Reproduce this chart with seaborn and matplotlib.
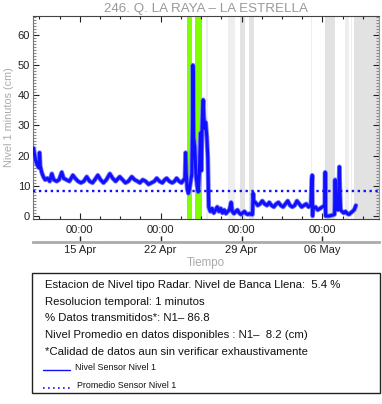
import numpy as np
import pandas as pd
import matplotlib
matplotlib.use("Agg")
import matplotlib.pyplot as plt
import matplotlib.dates as mdates
from matplotlib.ticker import FixedLocator, FuncFormatter, MultipleLocator
from matplotlib.patches import Rectangle
from matplotlib.lines import Line2D
import seaborn as sns

# ---------------- data ----------------
start = pd.Timestamp("2024-04-11 00:00")
dias = [0.00, 0.08, 0.17, 0.30, 0.45, 0.52, 0.58, 0.70, 0.85, 1.00, 1.20, 1.40, 1.58, 1.75,
        2.00, 2.20, 2.44, 2.60, 2.85, 3.10, 3.40, 3.60, 3.85, 4.10, 4.35, 4.60, 4.85, 5.10,
        5.30, 5.56, 5.80, 6.05, 6.30, 6.60, 6.85, 7.10, 7.46, 7.70, 7.95, 8.20, 8.50, 8.75,
        9.00, 9.20, 9.45, 9.70, 9.95, 10.20, 10.45, 10.66, 10.90, 11.15, 11.35, 11.52, 11.75,
        12.00, 12.20, 12.38, 12.60, 12.80, 13.00, 13.10, 13.16, 13.22, 13.30, 13.40, 13.50,
        13.60, 13.70, 13.76, 13.79, 13.82, 13.86, 13.95, 14.05, 14.15, 14.25, 14.35, 14.45,
        14.52, 14.58, 14.64, 14.68, 14.74, 14.82, 14.90, 15.00, 15.08, 15.16, 15.30, 15.45,
        15.60, 15.75, 15.90, 16.05, 16.20, 16.35, 16.50, 16.65, 16.80, 16.95, 17.10, 17.20,
        17.35, 17.50, 17.65, 17.80, 17.95, 18.10, 18.25, 18.40, 18.55, 18.70, 18.85, 18.95,
        19.00, 19.05, 19.20, 19.40, 19.60, 19.80, 20.00, 20.20, 20.40, 20.60, 20.80, 21.00,
        21.20, 21.40, 21.60, 21.80, 22.00, 22.20, 22.40, 22.60, 22.80, 23.00, 23.20, 23.40,
        23.60, 23.80, 24.00, 24.08, 24.12, 24.15, 24.20, 24.40, 24.60, 24.80, 25.00, 25.20,
        25.24, 25.28, 25.60, 26.05, 26.10, 26.15, 26.25, 26.35, 26.43, 26.47, 26.52, 26.58,
        26.70, 26.85, 27.00, 27.15, 27.30, 27.45, 27.60, 27.75, 27.90]
nivel = [22.5, 20.5, 18.5, 17.0, 16.0, 21.0, 16.5, 14.5, 13.0, 12.0, 12.5, 11.5, 14.0, 12.0,
         11.5, 12.0, 14.5, 12.5, 12.0, 11.5, 13.5, 12.5, 11.5, 11.0, 11.5, 13.0, 11.5, 11.0,
         12.0, 13.5, 12.0, 11.0, 12.0, 14.0, 12.5, 11.5, 13.0, 12.0, 11.0, 11.5, 13.0, 12.0,
         11.5, 11.0, 12.0, 11.5, 10.5, 11.0, 11.5, 12.5, 11.5, 11.0, 12.0, 12.5, 11.5,
         11.0, 11.5, 12.5, 11.5, 11.0, 12.0, 12.5, 21.0, 14.0, 9.0, 7.5, 9.0,
         11.5, 14.0, 30.0, 50.0, 46.0, 26.0, 23.0, 14.0, 10.0, 8.0, 14.0, 27.5,
         15.0, 28.0, 36.0, 38.5, 33.0, 29.0, 31.0, 26.0, 19.5, 3.0, 1.5, 2.5,
         1.0, 2.0, 3.0, 1.5, 2.5, 1.0, 2.0, 0.8, 1.5, 2.0, 4.5, 1.5,
         0.8, 1.5, 2.0, 1.0, 0.5, 1.0, 1.5, 0.8, 0.5, 0.8, 0.5, 0.5,
         7.5, 5.0, 4.5, 3.5, 4.0, 5.0, 4.0, 3.5, 4.5, 3.5, 3.0, 4.0,
         4.5, 3.5, 3.0, 4.0, 5.0, 3.5, 3.0, 3.5, 5.0, 4.0, 3.0, 3.5,
         4.0, 3.0, 3.5, 12.0, 13.5, 0.0, 2.5, 3.0, 2.0, 2.5, 3.0, 3.5,
         14.5, 0.0, 0.0, 0.5, 12.0, 2.0, 3.0, 2.0, 10.0, 16.3, 8.0, 2.0,
         1.5, 1.0, 1.5, 0.8, 0.5, 1.0, 1.5, 2.0, 3.5]
promedio = 8.2

# periods highlighted (start day, end day)
verde = [(13.25, 13.71), (14.00, 14.54)]
gris_claro = [(14.89, 15.12), (16.79, 17.05), (17.05, 17.40), (24.05, 24.14),
              (26.99, 27.33), (27.50, 27.60)]
gris = [(17.83, 18.26), (18.61, 19.04), (25.26, 26.13), (27.77, 29.90)]

titulo = "246. Q. LA RAYA \u2013 LA ESTRELLA"
info = ["Estacion de Nivel tipo Radar. Nivel de Banca Llena:  5.4 %",
        "Resolucion temporal: 1 minutos",
        "% Datos transmitidos*: N1\u2013 86.8",
        "Nivel Promedio en datos disponibles : N1\u2013  8.2 (cm)",
        "*Calidad de datos aun sin verificar exhaustivamente"]
leyenda = ["Nivel Sensor Nivel 1", "Promedio Sensor Nivel 1"]

# ---------------- plot ----------------
sns.set_style("ticks")
plt.rcParams["font.family"] = ["Liberation Sans", "DejaVu Sans"]

df = pd.DataFrame({"tiempo": start + pd.to_timedelta(dias, unit="D"), "nivel": nivel})

fig = plt.figure(figsize=(3.82, 4.04), dpi=100)
ax = fig.add_axes([33 / 382, 1 - 219 / 404, 346 / 382, 203 / 404])

def d(x):
    return start + pd.Timedelta(days=x)

for a, b in verde:
    ax.axvspan(d(a), d(b), color="#80ff00", lw=0, zorder=0)
for a, b in gris_claro:
    ax.axvspan(d(a), d(b), color="#eeeeee", lw=0, zorder=0)
for a, b in gris:
    ax.axvspan(d(a), d(b), color="#e2e2e2", lw=0, zorder=0)

# halo (1-min noise envelope look) + core line
sns.lineplot(data=df, x="tiempo", y="nivel", ax=ax, color="#7a7aff", lw=3.4, zorder=2)
sns.lineplot(data=df, x="tiempo", y="nivel", ax=ax, color="#1010ff", lw=2.2, zorder=3)
ax.axhline(promedio, color="#1010ff", lw=1.7, ls=(0, (1, 1.5)), zorder=4)

ax.set_xlim(d(-0.05), d(29.9))
ax.set_ylim(-1, 66.3)
ax.set_xlabel("")
ax.set_ylabel("Nivel 1 minutos (cm)", color="#aaaaaa", fontsize=7.8, labelpad=3)
ax.set_title(titulo, color="#999999", fontsize=9.6, pad=3.0)

ax.yaxis.set_major_locator(MultipleLocator(10))
ax.yaxis.set_minor_locator(MultipleLocator(1))
maj = [mdates.date2num(d(x)) for x in (4, 11, 18, 25)]
mino = [mdates.date2num(d(0.5 + 1.75 * k)) for k in range(18)]
ax.xaxis.set_major_locator(FixedLocator(maj))
ax.xaxis.set_minor_locator(FixedLocator(mino))
ax.xaxis.set_major_formatter(mdates.DateFormatter("%H:%M"))
ax.tick_params(which="both", direction="in", top=True, right=True, labelsize=8, colors="#222222")
ax.tick_params(which="major", length=4, width=0.8)
ax.tick_params(which="minor", length=2.5, width=0.8)
ax.tick_params(axis="y", which="minor", color="#888888")
ax.tick_params(axis="x", pad=4)
ax.tick_params(axis="y", pad=2)
for s in ax.spines.values():
    s.set_color("#444444")
    s.set_linewidth(0.8)
ax.spines["left"].set_color("#777777")
ax.spines["right"].set_color("#999999")

sec = ax.secondary_xaxis(-0.113)
sec.xaxis.set_major_locator(FixedLocator(maj))
sec.xaxis.set_major_formatter(FuncFormatter(lambda v, p: mdates.num2date(v).strftime("%d %b")))
sec.tick_params(direction="in", length=4, width=1, colors="#222222", labelsize=8, pad=2)
sec.spines["bottom"].set_color("#aaaaaa")
sec.spines["bottom"].set_linewidth(2)
sec.set_xlabel("Tiempo", color="#aaaaaa", fontsize=8.3, labelpad=1.5)

# info box
fig.add_artist(Rectangle((32 / 382, 1 - 393 / 404), 348 / 382, 120 / 404,
                         transform=fig.transFigure, fill=False, ec="#222222", lw=1))
for i, t in enumerate(info):
    y = 285 + i * 16.7
    fig.text(45 / 382, 1 - y / 404, t, fontsize=8.2, va="center", ha="left", color="#111111")
fig.add_artist(Line2D([43 / 382, 70 / 382], [1 - 370 / 404] * 2, transform=fig.transFigure,
                      color="#1010ff", lw=1))
fig.add_artist(Line2D([43 / 382, 70 / 382], [1 - 388 / 404] * 2, transform=fig.transFigure,
                      color="#1010ff", lw=1.2, ls=(0, (1, 2))))
fig.text(75 / 382, 1 - 367 / 404, leyenda[0], fontsize=6.4, va="center", ha="left", color="#111111")
fig.text(77 / 382, 1 - 385 / 404, leyenda[1], fontsize=6.4, va="center", ha="left", color="#111111")

fig.savefig("out.png", dpi=100)
